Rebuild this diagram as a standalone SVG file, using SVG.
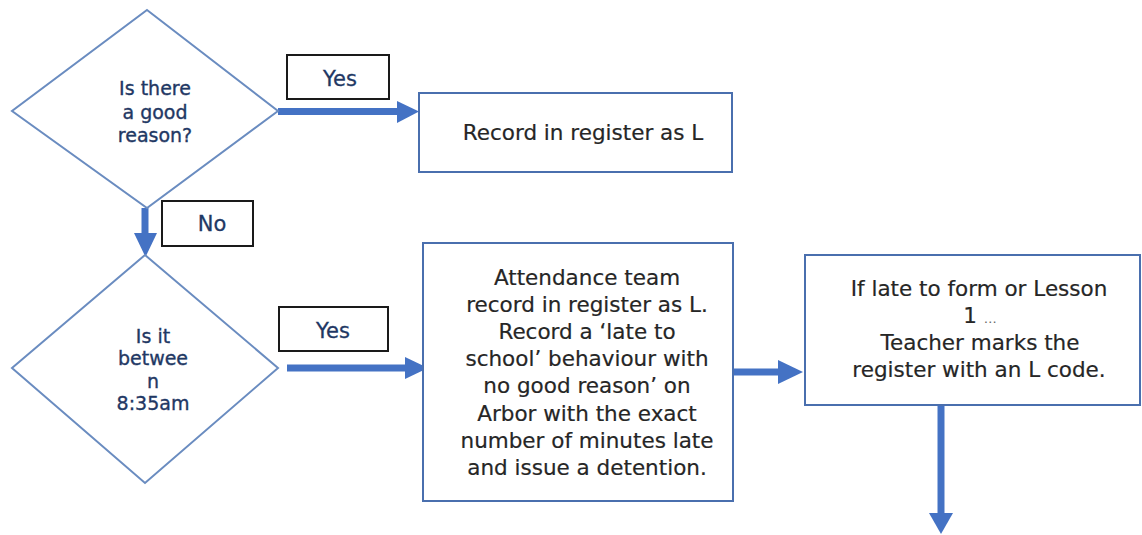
<svg xmlns="http://www.w3.org/2000/svg" width="1142" height="535" viewBox="0 0 1142 535">
<style>
.dia{fill:#fff;stroke:#6A8CC0;stroke-width:2}
.box{fill:#fff;stroke:#4A6FAE;stroke-width:2}
.lbl{fill:#fff;stroke:#1a1a1a;stroke-width:2}
.dt{font-family:"DejaVu Sans",Verdana,sans-serif;font-size:19px;fill:#1F3864;stroke:#1F3864;stroke-width:0.35;text-anchor:middle}
.lt{font-family:"DejaVu Sans",Verdana,sans-serif;font-size:21px;fill:#1F3864;stroke:#1F3864;stroke-width:0.3;text-anchor:middle}
.bt{font-family:"DejaVu Sans",Verdana,sans-serif;font-size:21.5px;fill:#262626;stroke:#262626;stroke-width:0.2;text-anchor:middle}
.con line{stroke:#4472C4;stroke-width:7}
.con polygon{fill:#4472C4}
</style>
<rect width="1142" height="535" fill="#fff"/>
<g id="connectors" class="con">
<line x1="278" y1="111.5" x2="399" y2="111.5"/>
<polygon points="397,101 419,111.5 397,123"/>
<line x1="145" y1="208" x2="145" y2="235"/>
<polygon points="134,233 157,233 145.5,257"/>
<line x1="287" y1="368" x2="407" y2="368"/>
<polygon points="405,357 428,368 405,379"/>
<line x1="733" y1="372" x2="780" y2="372"/>
<polygon points="778,360 803,372 778,384"/>
<line x1="941" y1="405" x2="941" y2="515"/>
<polygon points="929,513 953,513 941,534"/>
</g>
<g id="d1">
<polygon class="dia" points="147,10 278,111 147,208 12,111"/>
<text class="dt" x="155" y="95">Is there</text>
<text class="dt" x="155" y="119">a good</text>
<text class="dt" x="155" y="142">reason?</text>
</g>
<g id="yes1">
<rect class="lbl" x="287" y="55" width="102" height="44"/>
<text class="lt" x="340" y="86">Yes</text>
</g>
<g id="record">
<rect class="box" x="419" y="93" width="313" height="79"/>
<text class="bt" x="583" y="140">Record in register as L</text>
</g>
<g id="no">
<rect class="lbl" x="162" y="201" width="91" height="45"/>
<text class="lt" x="212" y="231">No</text>
</g>
<g id="d2">
<polygon class="dia" points="145,255 278,368 145,483 12,368"/>
<text class="dt" x="153" y="343">Is it</text>
<text class="dt" x="153" y="365">betwee</text>
<text class="dt" x="153" y="388">n</text>
<text class="dt" x="153" y="410">8:35am</text>
</g>
<g id="yes2">
<rect class="lbl" x="279" y="307" width="109" height="44"/>
<text class="lt" x="333" y="338">Yes</text>
</g>
<g id="attendance">
<rect class="box" x="423" y="243" width="310" height="258"/>
<text class="bt" x="587" y="285">Attendance team</text>
<text class="bt" x="587" y="312">record in register as L.</text>
<text class="bt" x="587" y="339">Record a ‘late to</text>
<text class="bt" x="587" y="366">school’ behaviour with</text>
<text class="bt" x="587" y="393">no good reason’ on</text>
<text class="bt" x="587" y="421">Arbor with the exact</text>
<text class="bt" x="587" y="448">number of minutes late</text>
<text class="bt" x="587" y="475">and issue a detention.</text>
</g>
<g id="teacher">
<rect class="box" x="805" y="255" width="335" height="150"/>
<text class="bt" x="979" y="296">If late to form or Lesson</text>
<text class="bt" x="980" y="323">1 <tspan font-size="13px" fill="#666" stroke="none">…</tspan></text>
<text class="bt" x="980" y="350">Teacher marks the</text>
<text class="bt" x="979" y="377">register with an L code.</text>
</g>
</svg>
